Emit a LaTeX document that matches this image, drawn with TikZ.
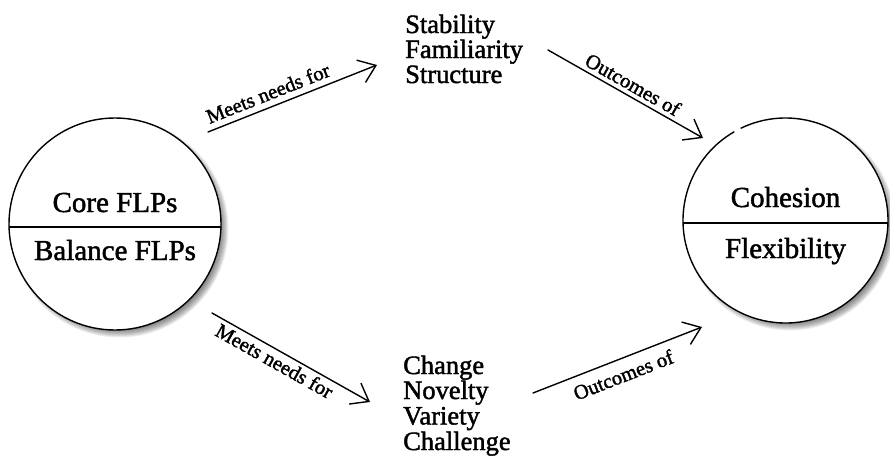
\documentclass[tikz,border=0pt]{standalone}
\usepackage{fontspec}
\setmainfont{Liberation Serif}
\newfontfamily\heavyserif[FakeBold=1.6]{Liberation Serif}
\usetikzlibrary{arrows.meta}
\begin{document}
\begin{tikzpicture}[x=1pt,y=-1pt,
  arr/.style={line width=1.4pt, line cap=round, -{Straight Barb[length=16pt,width=24pt]}},
  lbl/.style={font=\heavyserif\fontsize{20.5}{22}\selectfont, sloped, inner sep=0pt},
  big/.style={font=\heavyserif\fontsize{29}{30}\selectfont, inner sep=0pt, anchor=base},
  lst/.style={font=\heavyserif\fontsize{26.5}{25}\selectfont, inner sep=0pt, anchor=base west},
  ring/.style={line width=1.4pt},
  divider/.style={line width=1.8pt},
]
\useasboundingbox (0,0) rectangle (890,463);
% shadows
\foreach \i in {0,...,7}{
  \fill[black, opacity=0.07] (119.5,228.5) circle[radius={(109-\i)*1pt}];
  \fill[black, opacity=0.07] (790,225) circle[radius={(105.5-\i)*1pt}];
}
% left circle
\node[circle, draw, ring, fill=white, minimum size=212pt, inner sep=0pt] (L) at (115,224) {};
\draw[divider] (9.1,227) -- (220.9,227);
\node[big] (core) at (115,212) {Core FLPs};
\node[big] (bal) at (115,260) {Balance FLPs};
% right circle
\node[circle, fill=white, minimum size=205pt, inner sep=0pt] (R) at (785.5,220.5) {};
\draw[ring] (R.center) ++(120:102.5pt) arc[start angle=120, end angle=476, radius=102.5pt];
\draw[divider] (683.1,223) -- (887.9,223);
\node[big] (coh) at (785.5,207) {Cohesion};
\node[big] (flex) at (785.5,258) {Flexibility};
% lists
\node[lst] (s1) at (405,33) {Stability};
\node[lst] (s2) at (405,58) {Familiarity};
\node[lst] (s3) at (405,83) {Structure};
\node[lst] (c1) at (403,374) {Change};
\node[lst] (c2) at (403,399) {Novelty};
\node[lst] (c3) at (403,424.5) {Variety};
\node[lst] (c4) at (403,450) {Challenge};
% arrows
\coordinate (a1s) at (208,132);
\coordinate (a1e) at (377,65);
\coordinate (a2s) at (212,313);
\coordinate (a2e) at (370,402);
\coordinate (a3s) at (548,50);
\coordinate (a3e) at (703,138);
\coordinate (a4s) at (533,393);
\coordinate (a4e) at (702,327);
\draw[arr] (a1s) -- node[lbl, pos=0.385, above=6pt] {Meets needs for} (a1e);
\draw[arr] (a2s) -- node[lbl, pos=0.43, below=3pt] {Meets needs for} (a2e);
\draw[arr] (a3s) -- node[lbl, pos=0.51, above=4pt] {Outcomes of} (a3e);
\draw[arr] (a4s) -- node[lbl, pos=0.5, below=8pt] {Outcomes of} (a4e);
\end{tikzpicture}
\end{document}
